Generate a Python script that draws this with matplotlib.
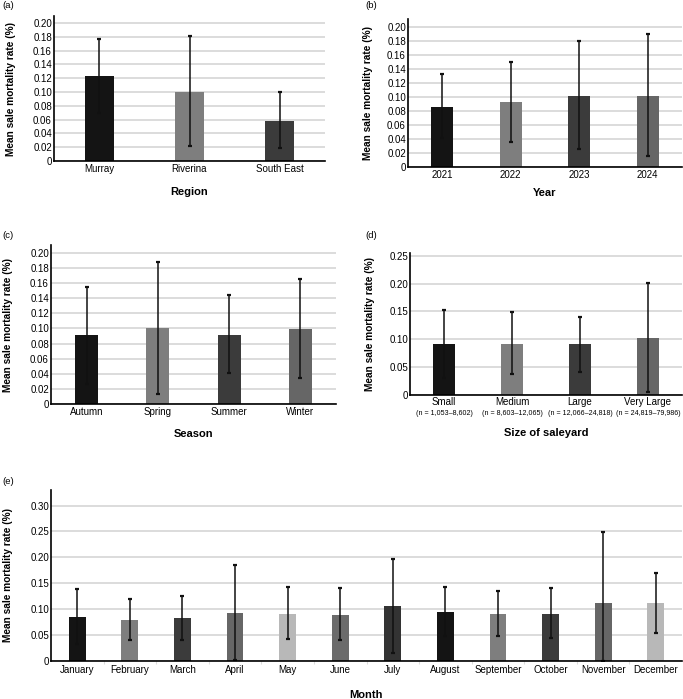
import numpy as np
import matplotlib
matplotlib.use("Agg")
import matplotlib.pyplot as plt
from matplotlib.transforms import blended_transform_factory

plt.rcParams["font.family"] = ["Liberation Sans", "DejaVu Sans"]

# (a) region
regions = ["Murray", "Riverina", "South East"]
region_mean = [0.123, 0.100, 0.058]
region_low = [0.070, 0.022, 0.019]
region_high = [0.176, 0.181, 0.100]

# (b) year
years = ["2021", "2022", "2023", "2024"]
year_mean = [0.086, 0.092, 0.101, 0.101]
year_low = [0.041, 0.036, 0.026, 0.015]
year_high = [0.132, 0.150, 0.179, 0.190]

# (c) season
seasons = ["Autumn", "Spring", "Summer", "Winter"]
season_mean = [0.091, 0.100, 0.092, 0.099]
season_low = [0.027, 0.013, 0.041, 0.034]
season_high = [0.155, 0.188, 0.144, 0.166]

# (d) saleyard size
sizes = ["Small", "Medium", "Large", "Very Large"]
size_n = ["(n = 1,053\u20138,602)", "(n = 8,603\u201312,065)",
          "(n = 12,066\u201324,818)", "(n = 24,819\u201379,986)"]
size_mean = [0.092, 0.092, 0.091, 0.102]
size_low = [0.031, 0.037, 0.042, 0.005]
size_high = [0.153, 0.149, 0.140, 0.201]

# (e) month
months = ["January", "February", "March", "April", "May", "June", "July",
          "August", "September", "October", "November", "December"]
month_mean = [0.085, 0.079, 0.083, 0.092, 0.091, 0.089, 0.106, 0.095,
              0.091, 0.091, 0.111, 0.112]
month_low = [0.033, 0.040, 0.040, 0.002, 0.042, 0.040, 0.016, 0.049,
             0.049, 0.045, 0.000, 0.055]
month_high = [0.138, 0.119, 0.126, 0.186, 0.142, 0.140, 0.197, 0.143,
              0.135, 0.140, 0.249, 0.169]

blk, mid, dark, dgray, light, jun, jul = ("#141414", "#7e7e7e", "#3b3b3b",
                                          "#666666", "#b8b8b8", "#6b6b6b", "#333333")
region_colors = [blk, mid, dark]
four_colors = [blk, mid, dark, dgray]
month_colors = [blk, mid, dark, dgray, light, jun, jul, blk, mid, dark, dgray, light]

W, H = 683, 699
fig = plt.figure(figsize=(W / 100, H / 100), dpi=100)


def make_axes(left, right, top, bottom):
    return fig.add_axes([left / W, 1 - bottom / H, (right - left) / W, (bottom - top) / H])


def panel(ax, cats, mean, low, high, colors, ymax, yticks, xlabel,
          ylab_x, xlab_y, xtick_pad=2.5):
    x = np.arange(len(cats))
    mean = np.array(mean)
    yerr = [mean - np.array(low), np.array(high) - mean]
    ax.bar(x, mean, width=0.32, color=colors, zorder=2)
    ax.errorbar(x, mean, yerr=yerr, fmt="none", ecolor="#111111", elinewidth=1.1,
                capsize=1.7, capthick=1.6, zorder=3)
    ax.set_xlim(-0.5, len(cats) - 0.5)
    ax.set_ylim(0, ymax)
    ax.set_yticks(yticks)
    ax.set_yticklabels(["0"] + ["%.2f" % v for v in yticks[1:]])
    ax.set_xticks(x)
    ax.set_xticklabels(cats)
    ax.tick_params(axis="both", length=0, labelsize=7, colors="black")
    ax.tick_params(axis="x", pad=xtick_pad)
    ax.tick_params(axis="y", pad=1.5)
    ax.yaxis.grid(True, color="#d6d6d6", linewidth=1.2, zorder=0)
    ax.set_axisbelow(True)
    for s in ["top", "right"]:
        ax.spines[s].set_visible(False)
    for s in ["left", "bottom"]:
        ax.spines[s].set_linewidth(1.2)
        ax.spines[s].set_zorder(4)
    ax.set_ylabel("Mean sale mortality rate (%)", fontsize=7.3, fontweight="bold")
    ax.yaxis.set_label_coords(ylab_x, 0.5)
    ax.set_xlabel(xlabel, fontsize=8, fontweight="bold")
    ax.xaxis.set_label_coords(0.5, xlab_y)


ax_a = make_axes(54, 325, 16, 161)
panel(ax_a, regions, region_mean, region_low, region_high, region_colors, 0.21,
      [0, 0.02, 0.04, 0.06, 0.08, 0.10, 0.12, 0.14, 0.16, 0.18, 0.20],
      "Region", -0.142, -0.18)

ax_b = make_axes(408, 682, 19, 167)
panel(ax_b, years, year_mean, year_low, year_high, four_colors, 0.211,
      [0, 0.02, 0.04, 0.06, 0.08, 0.10, 0.12, 0.14, 0.16, 0.18, 0.20],
      "Year", -0.128, -0.145)

ax_c = make_axes(51, 336, 245, 404)
panel(ax_c, seasons, season_mean, season_low, season_high, four_colors, 0.2105,
      [0, 0.02, 0.04, 0.06, 0.08, 0.10, 0.12, 0.14, 0.16, 0.18, 0.20],
      "Season", -0.133, -0.16)

ax_d = make_axes(410, 682, 253, 395)
panel(ax_d, sizes, size_mean, size_low, size_high, four_colors, 0.255,
      [0, 0.05, 0.10, 0.15, 0.20, 0.25],
      "Size of saleyard", -0.127, -0.235, xtick_pad=1.5)
trans = blended_transform_factory(ax_d.transData, ax_d.transAxes)
for i, t in enumerate(size_n):
    ax_d.text(i, -0.127, t, transform=trans, ha="center", va="center", fontsize=5.1)

ax_e = make_axes(51, 682, 490, 661)
panel(ax_e, months, month_mean, month_low, month_high, month_colors, 0.33,
      [0, 0.05, 0.10, 0.15, 0.20, 0.25, 0.30],
      "Month", -0.060, -0.17, xtick_pad=3)
ax_e.set_xticks(np.arange(0.5, 11, 1), minor=True)
ax_e.tick_params(axis="x", which="minor", length=2, color="#dddddd", width=0.8)

for lab, (px, py) in zip(["(a)", "(b)", "(c)", "(d)", "(e)"],
                         [(2, 6), (365, 6), (2, 235), (365, 235), (2, 481)]):
    fig.text(px / W, 1 - py / H, lab, fontsize=6.8, ha="left", va="center")

fig.savefig("out.png", dpi=100)
